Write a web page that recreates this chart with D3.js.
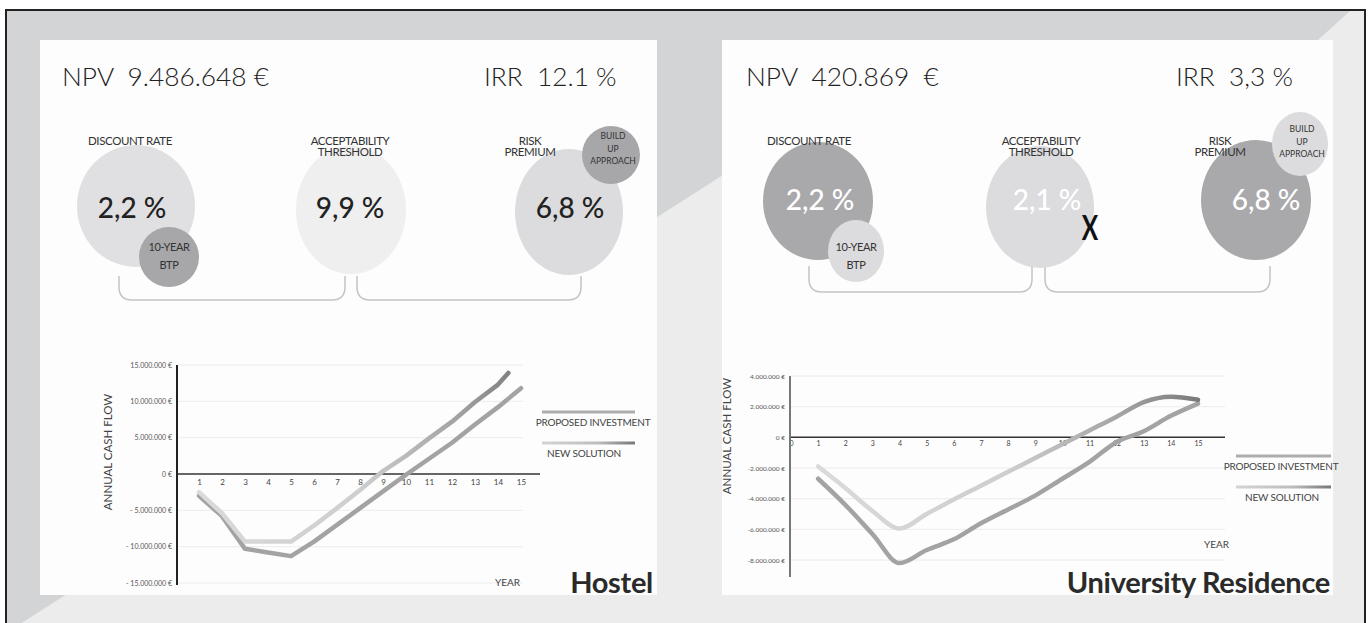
<!DOCTYPE html>
<html>
<head>
<meta charset="utf-8">
<script src="https://cdn.jsdelivr.net/npm/d3@7"></script>
<style>
  body { margin: 0; background: #fff; }
  text { font-family: Lato, "Open Sans", sans-serif; }
</style>
</head>
<body>
<svg id="chart" width="1371" height="623"></svg>
<script>
// ---- data (cash flow in millions of euro) ----
var years = [1, 2, 3, 4, 5, 6, 7, 8, 9, 10, 11, 12, 13, 14, 15];
var hostelProposed = [-3.0, -5.8, -10.3, -10.8, -11.3, -9.3, -7.0, -4.7, -2.4, -0.1, 2.1, 4.3, 6.8, 9.2, 11.8];
var hostelNewYears = [1, 2, 3, 4, 5, 6, 7, 8, 9, 10, 11, 12, 13, 14, 14.45];
var hostelNew = [-2.5, -5.4, -9.3, -9.3, -9.3, -7.1, -4.7, -2.2, 0.4, 2.5, 4.9, 7.2, 9.9, 12.3, 13.9];
var resProposed = [-2.7, -4.4, -6.3, -8.2, -7.35, -6.65, -5.6, -4.7, -3.8, -2.7, -1.6, -0.3, 0.4, 1.4, 2.2];
var resNew = [-1.9, -3.3, -4.8, -5.95, -5.0, -4.05, -3.15, -2.25, -1.35, -0.45, 0.45, 1.35, 2.3, 2.65, 2.45];

var hostelTicks = [15, 10, 5, 0, -5, -10, -15];
var resTicks = [4, 2, 0, -2, -4, -6, -8];
var hostelYearTicks = [1, 2, 3, 4, 5, 6, 7, 8, 9, 10, 11, 12, 13, 14, 15];
var resYearTicks = [0, 1, 2, 3, 4, 5, 6, 7, 8, 9, 10, 11, 12, 13, 14, 15];

var rateNames = [["DISCOUNT RATE"], ["ACCEPTABILITY", "THRESHOLD"], ["RISK", "PREMIUM"]];
var hostelRates = ["2,2 %", "9,9 %", "6,8 %"];
var resRates = ["2,2 %", "2,1 %", "6,8 %"];
var sideNames = [["10-YEAR", "BTP"], ["BUILD", "UP", "APPROACH"]];
var seriesNames = ["PROPOSED INVESTMENT", "NEW SOLUTION"];

var svg = d3.select('#chart');
var defs = svg.append('defs');

// ---- background ----
svg.append('rect').attr('x', 6).attr('y', 10).attr('width', 1359).attr('height', 625)
   .attr('fill', '#d3d4d6').attr('stroke', '#222').attr('stroke-width', 2);
svg.append('path')
   .attr('d', 'M6,633 L723,175 L1318,40 L1350,11 L1364,11 L1364,623 L7,623 Z')
   .attr('fill', '#ececec');
svg.append('rect').attr('x', 40).attr('y', 40).attr('width', 617).attr('height', 555).attr('fill', '#fdfdfd');
svg.append('rect').attr('x', 722).attr('y', 40).attr('width', 611).attr('height', 555).attr('fill', '#fdfdfd');

function gradient(id, x1, x2, stops){
   var g = defs.append('linearGradient').attr('id', id)
      .attr('gradientUnits', 'userSpaceOnUse')
      .attr('x1', x1).attr('x2', x2).attr('y1', 0).attr('y2', 0);
   stops.forEach(function(s){
      g.append('stop').attr('offset', s[0]).attr('stop-color', s[1]);
   });
   return 'url(#' + id + ')';
}

function euro(dash){
   return function(m){
      if (m === 0) return '0 €';
      var s = d3.format(',')(Math.abs(m) * 1e6).replace(/,/g, '.');
      return (m < 0 ? dash : '') + s + ' €';
   };
}

// ---- header + rate bubbles ----
function header(p){
   var g = svg.append('g');
   g.append('text').attr('x', p.npvX).attr('y', 86).attr('font-size', 26.3).attr('font-weight', 300)
      .attr('fill', '#222').attr('xml:space', 'preserve').text(p.npv);
   g.append('text').attr('x', p.irrX).attr('y', 86).attr('font-size', 26.3).attr('font-weight', 300)
      .attr('fill', '#222').attr('xml:space', 'preserve').text(p.irr);

   // brackets
   p.brackets.forEach(function(b){
      var r = 13;
      g.append('path')
         .attr('d', 'M' + b[0] + ',' + p.brTop + ' V' + (p.brBot - r) +
            ' Q' + b[0] + ',' + p.brBot + ' ' + (b[0] + r) + ',' + p.brBot +
            ' H' + (b[1] - r) + ' Q' + b[1] + ',' + p.brBot + ' ' + b[1] + ',' + (p.brBot - r) +
            ' V' + p.brTop)
         .attr('fill', 'none').attr('stroke', '#c4c4c4').attr('stroke-width', 1.5);
   });

   p.main.forEach(function(e){
      g.append('ellipse').attr('cx', e[0]).attr('cy', e[1]).attr('rx', e[2]).attr('ry', e[3]).attr('fill', e[4]);
   });
   p.side.forEach(function(e){
      g.append('ellipse').attr('cx', e[0]).attr('cy', e[1]).attr('rx', e[2]).attr('ry', e[3]).attr('fill', e[4]);
   });

   rateNames.forEach(function(lines, i){
      lines.forEach(function(t, j){
         g.append('text').attr('x', p.labelX[i]).attr('y', 145 + j * 11)
            .attr('text-anchor', 'middle').attr('font-size', 11.5).attr('fill', '#333')
            .attr('letter-spacing', -0.4).text(t);
      });
      g.append('text').attr('x', p.valueX[i]).attr('y', p.valueY).attr('dy', '0.35em')
         .attr('text-anchor', 'middle').attr('font-size', 28).attr('font-weight', 500)
         .attr('fill', p.valueFill).text(p.rates[i]);
   });

   // side bubble labels
   sideNames[0].forEach(function(t, j){
      g.append('text').attr('x', p.side[0][0]).attr('y', 251 + j * 18)
         .attr('text-anchor', 'middle').attr('font-size', 11).attr('fill', '#333')
         .attr('letter-spacing', -0.4).text(t);
   });
   sideNames[1].forEach(function(t, j){
      g.append('text').attr('x', p.side[1][0] + 2).attr('y', p.buildY + j * 12.5)
         .attr('text-anchor', 'middle').attr('font-size', 8.5).attr('fill', '#333').text(t);
   });
   return g;
}

header({
   npv: 'NPV  9.486.648 €', npvX: 62, irr: 'IRR  12.1 %', irrX: 484,
   main: [[136, 206, 59, 61, '#e0e0e2'], [351, 210, 55, 64, '#efeff0'], [569, 212, 54, 63, '#dcdcde']],
   side: [[169, 257, 30, 30, '#a7a7a9'], [611, 155, 29, 29, '#a7a7a9']],
   labelX: [130, 350, 530], valueX: [132, 350, 570], valueY: 208, valueFill: '#222',
   rates: hostelRates, buildY: 139,
   brackets: [[119, 345], [357, 581]], brTop: 276, brBot: 300
});

var rightHead = header({
   npv: 'NPV  420.869  €', npvX: 746, irr: 'IRR  3,3 %', irrX: 1176,
   main: [[818, 201, 55, 59, '#a9a9ab'], [1040, 207, 54, 61, '#dcdcde'], [1256, 200, 55, 60, '#a9a9ab']],
   side: [[856, 251, 28, 31, '#dcdcde'], [1300, 144, 28, 32, '#dcdcde']],
   labelX: [809, 1041, 1220], valueX: [820, 1047, 1266], valueY: 200, valueFill: '#fff',
   rates: resRates, buildY: 132,
   brackets: [[809, 1032], [1045, 1270]], brTop: 266, brBot: 292
});
// condensed bold "X" next to the acceptability threshold
rightHead.append('text').attr('transform', 'translate(1090,240) scale(0.72,1)').attr('text-anchor', 'middle')
   .attr('font-size', 34).attr('font-weight', 'bold').attr('fill', '#111').text('X');

// ---- cash flow charts ----
function cashChart(c){
   var g = svg.append('g');
   var x = d3.scaleLinear().domain([0, 15]).range(c.xr);
   var y = d3.scaleLinear().domain(c.yd).range(c.yr);

   // grid
   g.selectAll('line.grid').data(c.ticks.filter(function(d){ return d !== 0; })).enter().append('line')
      .attr('x1', c.axisX).attr('x2', c.gridEnd)
      .attr('y1', function(d){ return y(d); }).attr('y2', function(d){ return y(d); })
      .attr('stroke', '#ececec').attr('stroke-width', 1);

   // y tick labels
   var yAxis = d3.axisLeft(y).tickValues(c.ticks).tickSize(0).tickPadding(0).tickFormat(euro(c.dash));
   var ya = g.append('g').attr('transform', 'translate(' + c.labelEnd + ',0)').call(yAxis);
   ya.select('.domain').remove();
   ya.selectAll('text').attr('font-size', c.tickFont).attr('fill', '#555').attr('font-family', 'Lato, sans-serif');

   // x axis (zero line) and year labels
   g.append('line').attr('x1', c.axisX).attr('x2', c.xEnd).attr('y1', y(0)).attr('y2', y(0))
      .attr('stroke', '#333').attr('stroke-width', 1.5);
   var xAxis = d3.axisBottom(x).tickValues(c.yearTicks).tickSize(0).tickPadding(0).tickFormat(d3.format('d'));
   var xa = g.append('g').attr('transform', 'translate(0,' + (y(0) + c.yearPad) + ')').call(xAxis);
   xa.select('.domain').remove();
   xa.selectAll('text').attr('font-size', c.yearFont).attr('fill', '#444').attr('font-family', 'Lato, sans-serif');

   // y axis line
   g.append('line').attr('x1', c.axisX).attr('x2', c.axisX).attr('y1', y(c.yd[1])).attr('y2', c.axisBottom)
      .attr('stroke', c.axisColor).attr('stroke-width', 2);

   g.append('text').attr('transform', 'translate(' + c.titleX + ',' + c.titleY + ') rotate(-90)')
      .attr('text-anchor', 'middle').attr('font-size', 11.5).attr('fill', '#444').text('ANNUAL CASH FLOW');
   g.append('text').attr('x', c.yearX).attr('y', c.yearY).attr('text-anchor', 'end')
      .attr('font-size', 10).attr('fill', '#444').text('YEAR');

   var line = d3.line().curve(c.curve)
      .x(function(d){ return x(d[0]); }).y(function(d){ return y(d[1]); });
   var grad = gradient(c.id + 'grad', x(1), x(15), [[0, '#dadada'], [0.5, '#cecece'], [0.8, '#a3a3a3'], [1, '#7a7a7a']]);

   g.append('path').datum(d3.zip(years, c.proposed)).attr('d', line)
      .attr('fill', 'none').attr('stroke', '#a3a3a3').attr('stroke-width', 4.5)
      .attr('stroke-linecap', 'round').attr('stroke-linejoin', 'round');
   g.append('path').datum(d3.zip(c.newYears, c.newVals)).attr('d', line)
      .attr('fill', 'none').attr('stroke', grad).attr('stroke-width', 4.5)
      .attr('stroke-linecap', 'round').attr('stroke-linejoin', 'round');

   // legend
   var lg = gradient(c.id + 'leg', c.legX[0], c.legX[1], [[0, '#d4d4d4'], [0.6, '#bdbdbd'], [1, '#777']]);
   [['#adadad', c.legY[0]], [lg, c.legY[1]]].forEach(function(l, i){
      g.append('rect').attr('x', c.legX[0]).attr('y', l[1] - 1.5).attr('width', c.legX[1] - c.legX[0]).attr('height', 3)
         .attr('fill', l[0]);
      g.append('text').attr('x', c.legTextX[i]).attr('y', l[1] + 14).attr('text-anchor', 'middle')
         .attr('font-size', 10).attr('fill', '#444').attr('letter-spacing', -0.2).text(seriesNames[i]);
   });

   g.append('text').attr('x', c.nameX).attr('y', 593).attr('text-anchor', 'end')
      .attr('font-size', 29).attr('font-weight', 'bold').attr('fill', '#2a2a2a')
      .attr('letter-spacing', -0.3).text(c.name);
}

cashChart({
   id: 'hostel', name: 'Hostel', nameX: 653,
   xr: [176, 521], yd: [-15, 15], yr: [583, 365], ticks: hostelTicks, yearTicks: hostelYearTicks,
   axisX: 177, axisBottom: 585, xEnd: 540, gridEnd: 523, labelEnd: 172, dash: '- ',
   tickFont: 7, yearFont: 8, yearPad: 5, axisColor: '#222',
   titleX: 112, titleY: 452, yearX: 520, yearY: 586,
   curve: d3.curveLinear, proposed: hostelProposed, newYears: hostelNewYears, newVals: hostelNew,
   legX: [542, 635], legY: [412, 443], legTextX: [593, 584]
});

cashChart({
   id: 'res', name: 'University Residence', nameX: 1330,
   xr: [791, 1198], yd: [-8, 4], yr: [560, 376], ticks: resTicks, yearTicks: resYearTicks,
   axisX: 790, axisBottom: 577, xEnd: 1225, gridEnd: 1225, labelEnd: 785, dash: '-',
   tickFont: 6.5, yearFont: 7, yearPad: 4, axisColor: '#777',
   titleX: 731, titleY: 436, yearX: 1229, yearY: 548,
   curve: d3.curveMonotoneX, proposed: resProposed, newYears: years, newVals: resNew,
   legX: [1236, 1331], legY: [456, 487], legTextX: [1281, 1282]
});
</script>
</body>
</html>
